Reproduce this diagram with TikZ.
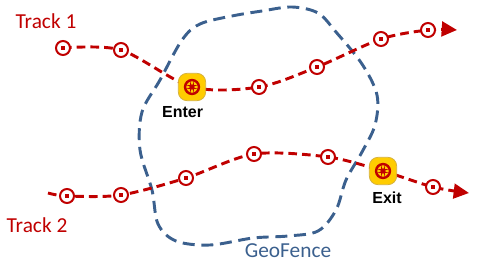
\documentclass[tikz,border=0pt]{standalone}
\usepackage{fontspec}
\setmainfont{Carlito}
\newfontfamily\gatefont{Liberation Sans}
\usetikzlibrary{arrows.meta,positioning,backgrounds}
\definecolor{trkred}{RGB}{192,0,0}
\definecolor{fenceblue}{RGB}{59,96,142}
\definecolor{gateyellow}{RGB}{255,204,0}
\definecolor{gateedge}{RGB}{214,178,60}
\tikzset{
  >=Stealth,
  wp/.style={circle,draw=trkred,line width=1.5pt,fill=white,inner sep=0pt,minimum size=10.5pt,
    path picture={\fill[trkred] ([shift={(-1.3pt,-1.3pt)}]path picture bounding box.center) rectangle ++(2.6pt,2.6pt);}},
  gate/.style={rectangle,rounded corners=6.5pt,draw=gateedge,line width=0.6pt,fill=gateyellow,inner sep=0pt,minimum size=20.5pt,
    path picture={\draw[trkred,line width=1.8pt] (path picture bounding box.center) circle (5.2pt);
      \fill[trkred] ([shift={(-1.4pt,-1.4pt)}]path picture bounding box.center) rectangle ++(2.8pt,2.8pt);}},
  trk/.style={trkred,line width=2.2pt,dash pattern=on 6.5pt off 3.8pt,-{Triangle[length=11.5pt,width=11pt]}},
  fence/.style={fenceblue,line width=2.2pt,dash pattern=on 9pt off 5pt},
  lbl/.style={font=\fontsize{16}{19}\selectfont},
  gatelbl/.style={font=\gatefont\bfseries\fontsize{12}{14}\selectfont}
}

\begin{document}
\begin{tikzpicture}[x=0.75pt,y=-0.75pt]
\useasboundingbox (0,0) rectangle (478,268);

% track 1
\node (t1a) [wp] at (63,48) {};
\node (t1b) [wp] at (121,50) {};
\node (en) [gate] at (192,87) {};
\node (t1c) [wp] at (259,87) {};
\node (t1d) [wp] at (317,67) {};
\node (t1e) [wp] at (381,39) {};
\node (t1f) [wp] at (428,30) {};
\coordinate (t1end) at (457,30);

% track 2
\coordinate (t2beg) at (48,193);
\node (t2a) [wp] at (67,196) {};
\node (t2b) [wp] at (121,195) {};
\node (t2c) [wp] at (186,178) {};
\node (t2d) [wp] at (254,154) {};
\node (t2e) [wp] at (328,157) {};
\node (ex) [gate] at (383,171) {};
\node (t2f) [wp] at (433,187) {};
\coordinate (t2end) at (469,193);

\node (enl) [gatelbl, below=0.5pt of en, xshift=-7pt] {Enter};
\node (exl) [gatelbl, below=1.5pt of ex, xshift=3pt] {Exit};
\node (tr1) [lbl, text=trkred] at (46,21) {Track 1};
\node (tr2) [lbl, text=trkred] at (37,225) {Track 2};
\node (gf) [lbl, text=fenceblue] at (288,251) {GeoFence};

\begin{scope}[on background layer]
\draw[fence] plot[smooth cycle, tension=0.55] coordinates {(200,24) (232,16) (262,11) (292,7) (318,13) (336,32) (362,64) (377,95) (375,125) (362,152) (346,180) (336,210) (318,231) (288,236) (253,238) (210,245) (176,241) (158,224) (152,190) (140,150) (142,112) (160,80) (182,40)};
\draw[trk] plot[smooth, tension=0.5] coordinates {(t1a) (t1b) (en) (t1c) (t1d) (t1e) (t1f) (t1end)};
\draw[trk] plot[smooth, tension=0.5] coordinates {(t2beg) (t2a) (t2b) (t2c) (t2d) (t2e) (ex) (t2f) (t2end)};
\end{scope}

\end{tikzpicture}
\end{document}
